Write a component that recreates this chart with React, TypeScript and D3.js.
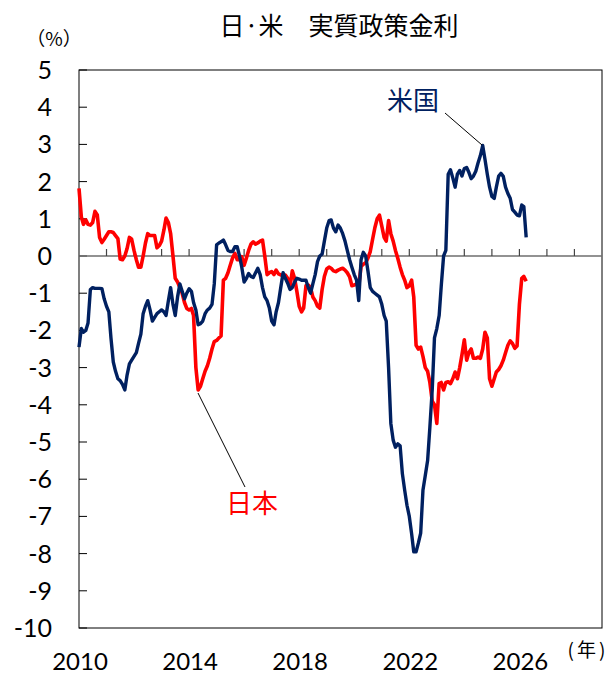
import React, { useEffect, useRef } from 'react'
import * as d3 from 'd3'

// monthly, starting 2010-01
const startMonth = '2010-01'

const jpValues = [
  1.82, 1.05, 0.85, 0.97, 0.85, 0.83, 0.9, 1.2, 1.1, 0.5, 0.36, 0.45,
  0.55, 0.65, 0.65, 0.63, 0.55, 0.47, -0.08, -0.1, 0.0, 0.2, 0.5, 0.45,
  0.15, -0.1, -0.3, -0.3, 0.0, 0.35, 0.6, 0.55, 0.55, 0.55, 0.22, 0.28,
  0.4, 0.7, 1.02, 0.9, 0.6, 0.0, -0.6, -0.7, -0.85, -1.0, -1.25, -1.41,
  -1.45, -1.41, -1.6, -3.0, -3.6, -3.5, -3.3, -3.1, -2.95, -2.75, -2.5, -2.3,
  -2.27, -2.2, -2.15, -0.65, -0.6, -0.45, -0.25, -0.05, 0.07, -0.1, -0.1, -0.02,
  -0.25, -0.05, 0.15, 0.32, 0.38, 0.32, 0.35, 0.4, 0.43, 0.0, -0.5, -0.45,
  -0.42, -0.5, -0.38, -0.48, -0.51, -0.51, -0.51, -0.6, -0.83, -0.4, -0.6, -0.95,
  -1.35, -1.5, -1.4, -0.8, -0.78, -0.85, -1.1, -1.2, -1.35, -1.4, -0.9, -0.55,
  -0.35, -0.3, -0.33, -0.4, -0.42, -0.38, -0.35, -0.33, -0.38, -0.45, -0.56, -0.8,
  -0.78, -0.75, -0.8, -0.28, -0.22, -0.18, -0.06, 0.12, 0.45, 0.76, 1.0, 1.1,
  0.8, 0.5, 0.4, 0.95, 0.6, 0.4, 0.15, -0.06, -0.3, -0.5, -0.65, -0.85,
  -0.8, -0.65, -1.1, -2.4, -2.5, -2.45, -2.7, -3.0, -3.1, -3.4, -3.9, -4.0,
  -4.5, -3.43, -3.4, -3.6, -3.4, -3.38, -3.43, -3.3, -3.12, -3.3, -3.0, -2.65,
  -2.25, -2.8, -2.6, -2.5, -2.75, -2.75, -2.72, -2.75, -2.5, -2.05, -2.2, -3.3,
  -3.5, -3.3, -3.12, -3.05, -2.95, -2.8, -2.6, -2.4, -2.28, -2.35, -2.48, -2.42,
  -1.3, -0.6, -0.55, -0.68,
]

const usValues = [
  -2.45, -1.95, -2.05, -2.0, -1.8, -0.9, -0.85, -0.87, -0.87, -0.87, -0.88, -1.15,
  -1.35, -1.5, -2.2, -2.85, -3.1, -3.3, -3.35, -3.45, -3.6, -3.2, -2.9, -2.8,
  -2.7, -2.6, -2.35, -2.1, -1.55, -1.35, -1.2, -1.45, -1.75, -1.65, -1.55, -1.5,
  -1.45, -1.5, -1.6, -1.2, -0.85, -1.3, -1.6, -1.1, -0.75, -0.95, -1.15, -1.0,
  -0.88, -0.95, -1.25, -1.45, -1.85, -1.82, -1.75, -1.55, -1.45, -1.4, -1.3, -0.75,
  0.3, 0.35, 0.38, 0.43, 0.3, 0.15, 0.12, 0.12, 0.25, 0.25, 0.0, -0.3,
  -0.7, -0.6, -0.47, -0.55, -0.58, -0.45, -0.33, -0.5, -0.85, -1.1, -1.2, -1.4,
  -1.75, -1.85, -1.5, -1.25, -0.85, -0.45, -0.6, -0.73, -0.9, -0.85, -0.7, -0.6,
  -0.62, -0.65, -0.65, -0.65, -0.85, -1.0, -0.75, -0.5, -0.15, 0.0, 0.05, 0.4,
  0.75, 0.95, 0.97, 0.75, 0.65, 0.83, 0.75, 0.6, 0.4, 0.15, -0.1, -0.3,
  -0.5, -0.65, -1.2, -0.1, 0.1, 0.0, -0.4, -0.85, -0.95, -1.0, -1.05, -1.1,
  -1.3, -1.6, -1.75, -3.0, -4.5, -4.95, -5.14, -5.05, -5.1, -5.85, -6.3, -6.7,
  -7.0, -7.47, -7.95, -7.95, -7.72, -7.45, -6.3, -5.9, -5.5, -4.6, -3.6, -2.2,
  -1.95, -1.6, -0.8, 0.0, 0.15, 2.2, 2.32, 2.1, 1.85, 2.2, 2.3, 2.15,
  2.35, 2.38, 2.25, 2.08, 2.15, 2.28, 2.5, 2.7, 2.97, 2.6, 2.2, 1.85,
  1.6, 1.55, 1.85, 2.15, 2.22, 2.14, 1.85, 1.68, 1.55, 1.25, 1.18, 1.1,
  1.08, 1.37, 1.33, 0.5,
]

const yTicks = [5, 4, 3, 2, 1, 0, -1, -2, -3, -4, -5, -6, -7, -8, -9, -10]
const xLabelYears = [2010, 2014, 2018, 2022, 2026]

const W = 613
const H = 675
const font = "Lato, 'Noto Sans CJK JP', sans-serif"
const jpFont = "'Noto Sans CJK JP', sans-serif"

const App = () => {
  const ref = useRef<SVGSVGElement>(null)

  useEffect(() => {
    const svg = d3.select(ref.current)
    svg.selectAll('*').remove()

    const left = 79, right = 602, top = 70, bottom = 628
    const start = d3.timeParse('%Y-%m')(startMonth) as Date
    const x = d3.scaleTime().domain([new Date(2010, 0, 1), new Date(2029, 0, 1)]).range([left, right])
    const y = d3.scaleLinear().domain([-10, 5]).range([bottom, top])

    const toPts = (vals: number[]) => vals.map((v, i) => ({ d: d3.timeMonth.offset(start, i), v }))
    const line = d3.line<{ d: Date, v: number }>().x(p => x(p.d)).y(p => y(p.v))

    // title
    svg.append('text').attr('x', 339).attr('y', 35).attr('text-anchor', 'middle')
      .style('font-family', jpFont).style('font-size', '25px').attr('fill', '#000')
      .text('日·米　実質政策金利')

    svg.append('text').attr('x', 54).attr('y', 46).attr('text-anchor', 'middle')
      .style('font-family', jpFont).style('font-size', '19px').attr('fill', '#000')
      .text('（%）')

    svg.append('text').attr('x', 588).attr('y', 657).attr('text-anchor', 'middle')
      .style('font-family', jpFont).style('font-size', '19px').style('letter-spacing', '3px')
      .attr('fill', '#000')
      .text('(年)')

    // plot box
    svg.append('rect').attr('x', left).attr('y', top).attr('width', right - left).attr('height', bottom - top)
      .attr('fill', 'none').attr('stroke', '#000').attr('stroke-width', 1)

    // y ticks and labels
    yTicks.forEach(t => {
      svg.append('line').attr('x1', left).attr('x2', left + 8).attr('y1', y(t)).attr('y2', y(t))
        .attr('stroke', '#000').attr('stroke-width', 1)
      svg.append('text').attr('x', 52).attr('y', y(t) + 9).attr('text-anchor', 'end')
        .style('font-family', font).style('font-size', '25px').attr('fill', '#000')
        .text(String(t))
    })

    // zero line with yearly ticks
    const y0 = y(0)
    svg.append('line').attr('x1', left).attr('x2', right).attr('y1', y0).attr('y2', y0)
      .attr('stroke', '#6e6e6e').attr('stroke-width', 1.5)
    d3.timeYear.range(new Date(2011, 0, 1), new Date(2029, 0, 1)).forEach(d => {
      svg.append('line').attr('x1', x(d)).attr('x2', x(d)).attr('y1', y0 - 7).attr('y2', y0)
        .attr('stroke', '#444').attr('stroke-width', 1.2)
    })

    // x labels
    xLabelYears.forEach(yr => {
      svg.append('text').attr('x', x(new Date(yr, 0, 1)) + 1).attr('y', 670).attr('text-anchor', 'middle')
        .style('font-family', font).style('font-size', '24px').attr('fill', '#000')
        .text(String(yr))
    })

    // lines
    svg.append('path').datum(toPts(jpValues)).attr('d', line)
      .attr('fill', 'none').attr('stroke', '#ff0000').attr('stroke-width', 3.6)
      .attr('stroke-linejoin', 'round')
    svg.append('path').datum(toPts(usValues)).attr('d', line)
      .attr('fill', 'none').attr('stroke', '#002060').attr('stroke-width', 3.4)
      .attr('stroke-linejoin', 'round')

    // annotations
    svg.append('line').attr('x1', 445).attr('y1', 113).attr('x2', 482).attr('y2', 145)
      .attr('stroke', '#000').attr('stroke-width', 1)
    svg.append('text').attr('x', 413).attr('y', 110).attr('text-anchor', 'middle')
      .style('font-family', jpFont).style('font-size', '26px').attr('fill', '#002060')
      .text('米国')

    svg.append('line').attr('x1', 198).attr('y1', 393).attr('x2', 245).attr('y2', 487)
      .attr('stroke', '#000').attr('stroke-width', 1)
    svg.append('text').attr('x', 252).attr('y', 513).attr('text-anchor', 'middle')
      .style('font-family', jpFont).style('font-size', '26px').attr('fill', '#ff0000')
      .text('日本')
  }, [])

  return (
    <svg ref={ref} width={W} height={H} style={{ position: 'absolute', left: 0, top: 0, background: '#fff' }} />
  )
}

export default App
